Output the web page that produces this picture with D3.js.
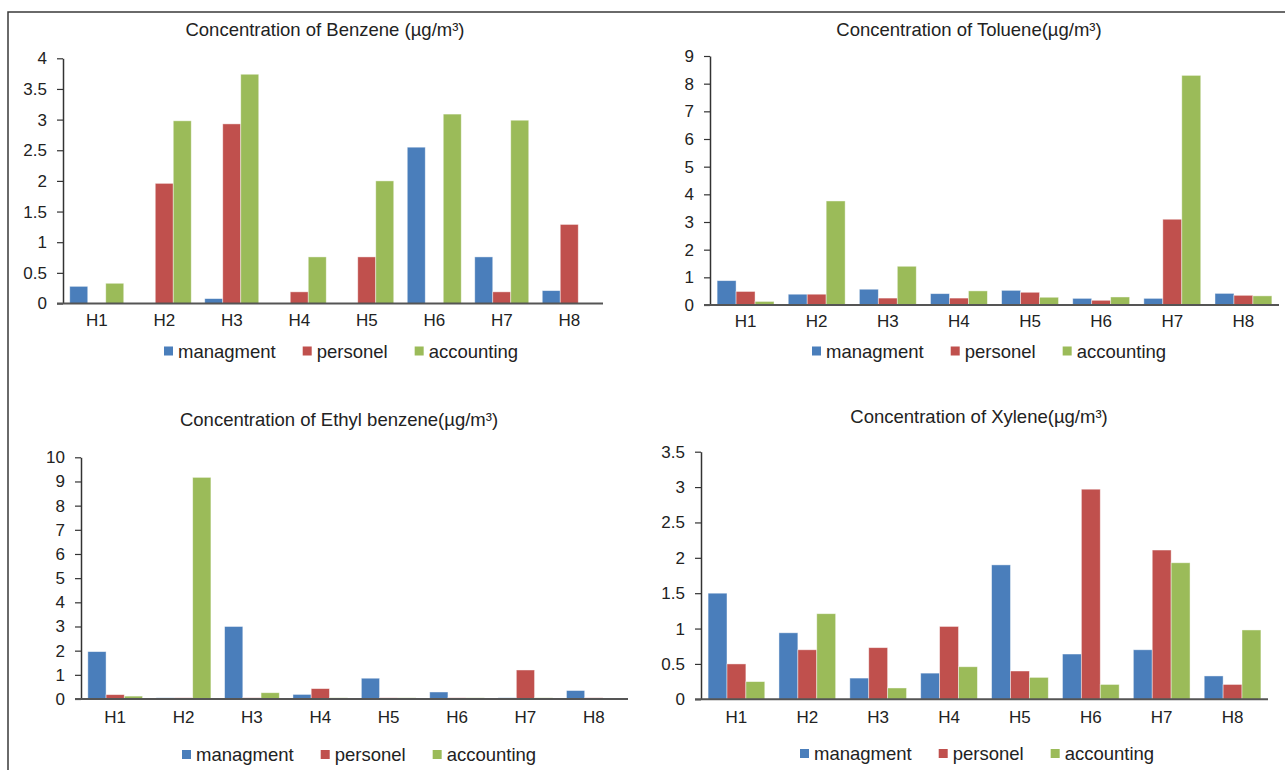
<!DOCTYPE html>
<html>
<head>
<meta charset="utf-8">
<script src="https://cdn.jsdelivr.net/npm/d3@7"></script>
<style>
  html, body { margin: 0; padding: 0; background: #fff; }
  svg { display: block; font-family: "Liberation Sans", Arial, Helvetica, sans-serif; }
</style>
</head>
<body>
<svg id="chart" width="1285" height="770"></svg>
<script>
// ---------- DATA ----------
const categories = ["H1", "H2", "H3", "H4", "H5", "H6", "H7", "H8"];
const seriesNames = ["managment", "personel", "accounting"];
const seriesColors = ["#4a7ebb", "#c0504d", "#9bbb59"];

const benzeneManagment  = [0.28, 0, 0.08, 0, 0, 2.55, 0.76, 0.21];
const benzenePersonel   = [0, 1.96, 2.93, 0.19, 0.76, 0, 0.19, 1.29];
const benzeneAccounting = [0.33, 2.98, 3.74, 0.76, 2.00, 3.09, 2.99, 0];
const benzeneTicks = [0, 0.5, 1, 1.5, 2, 2.5, 3, 3.5, 4];

const tolueneManagment  = [0.88, 0.39, 0.57, 0.41, 0.53, 0.24, 0.24, 0.42];
const toluenePersonel   = [0.49, 0.39, 0.25, 0.25, 0.46, 0.17, 3.10, 0.35];
const tolueneAccounting = [0.13, 3.76, 1.40, 0.51, 0.28, 0.29, 8.30, 0.33];
const tolueneTicks = [0, 1, 2, 3, 4, 5, 6, 7, 8, 9];

const ethylManagment  = [1.96, 0.05, 3.00, 0.19, 0.86, 0.29, 0.05, 0.35];
const ethylPersonel   = [0.18, 0.05, 0.05, 0.43, 0.05, 0.05, 1.20, 0.05];
const ethylAccounting = [0.12, 9.17, 0.26, 0.05, 0.05, 0.05, 0.05, 0];
const ethylTicks = [0, 1, 2, 3, 4, 5, 6, 7, 8, 9, 10];

const xyleneManagment  = [1.50, 0.94, 0.30, 0.37, 1.90, 0.64, 0.70, 0.33];
const xylenePersonel   = [0.50, 0.70, 0.73, 1.03, 0.40, 2.97, 2.11, 0.21];
const xyleneAccounting = [0.25, 1.21, 0.16, 0.46, 0.31, 0.21, 1.93, 0.98];
const xyleneTicks = [0, 0.5, 1, 1.5, 2, 2.5, 3, 3.5];

// ---------- LAYOUT ----------
const panels = [
  { title: "Concentration of Benzene (µg/m³)", series: [benzeneManagment, benzenePersonel, benzeneAccounting],
    ticks: benzeneTicks, x0: 63, x1: 603, yZero: 303.5, yTop: 58.3, titleX: 325, titleY: 36, legendX: 164, legendY: 357.5, labelPad: 10 },
  { title: "Concentration of Toluene(µg/m³)", series: [tolueneManagment, toluenePersonel, tolueneAccounting],
    ticks: tolueneTicks, x0: 710, x1: 1279, yZero: 305, yTop: 56, titleX: 969, titleY: 36, legendX: 812, legendY: 357.5, labelPad: 10 },
  { title: "Concentration of Ethyl benzene(µg/m³)", series: [ethylManagment, ethylPersonel, ethylAccounting],
    ticks: ethylTicks, x0: 81, x1: 628, yZero: 699, yTop: 457.3, titleX: 339, titleY: 425.5, legendX: 182, legendY: 761, labelPad: 12 },
  { title: "Concentration of Xylene(µg/m³)", series: [xyleneManagment, xylenePersonel, xyleneAccounting],
    ticks: xyleneTicks, x0: 701, x1: 1268, yZero: 699.3, yTop: 451.7, titleX: 979, titleY: 423, legendX: 800, legendY: 760, labelPad: 12 }
];

const svg = d3.select("#chart");

// outer frame (left and top edges)
svg.append("path")
  .attr("d", "M8,770 L8,12 L1285,12")
  .attr("fill", "none").attr("stroke", "#3a3a3a").attr("stroke-width", 1.5);

panels.forEach(p => {
  const g = svg.append("g");
  const maxTick = p.ticks[p.ticks.length - 1];
  const y = d3.scaleLinear().domain([0, maxTick]).range([p.yZero, p.yTop]);
  const x = d3.scaleBand().domain(categories).range([p.x0, p.x1]).paddingInner(0.2).paddingOuter(0.1);
  const xs = d3.scaleBand().domain(seriesNames).range([0, x.bandwidth()]);

  // bars
  seriesNames.forEach((s, si) => {
    g.append("g").selectAll("rect")
      .data(categories.map((c, i) => ({ c, v: p.series[si][i] })).filter(d => d.v > 0))
      .join("rect")
      .attr("x", d => x(d.c) + xs(s))
      .attr("width", xs.bandwidth())
      .attr("y", d => y(d.v))
      .attr("height", d => y(0) - y(d.v))
      .attr("fill", seriesColors[si])
      .attr("stroke", "rgba(255,255,255,0.55)")
      .attr("stroke-width", 0.8);
  });

  // y axis
  const ya = g.append("g")
    .attr("transform", `translate(${p.x0},0)`)
    .call(d3.axisLeft(y).tickValues(p.ticks).tickFormat(d => String(d)).tickSize(6).tickSizeOuter(0).tickPadding(10));
  ya.select(".domain").attr("stroke", "#333").attr("stroke-width", 1.5);
  ya.selectAll(".tick line").attr("stroke", "#333").attr("stroke-width", 1.2);
  ya.selectAll(".tick text").attr("font-size", 17).attr("fill", "#222")
    .attr("font-family", "'Liberation Sans', Arial, sans-serif");

  // x axis
  const xa = g.append("g")
    .attr("transform", `translate(0,${p.yZero})`)
    .call(d3.axisBottom(x).tickSize(0).tickPadding(p.labelPad));
  xa.select(".domain").remove();
  xa.selectAll(".tick text").attr("font-size", 17).attr("fill", "#222")
    .attr("font-family", "'Liberation Sans', Arial, sans-serif");
  g.append("line")
    .attr("x1", p.x0 - 6).attr("x2", p.x1)
    .attr("y1", y(0)).attr("y2", y(0))
    .attr("stroke", "#555").attr("stroke-width", 2);

  // title
  g.append("text")
    .attr("x", p.titleX).attr("y", p.titleY)
    .attr("text-anchor", "middle")
    .attr("font-size", 18.5).attr("fill", "#222")
    .text(p.title);

  // legend
  let cx = p.legendX;
  seriesNames.forEach((s, si) => {
    g.append("rect")
      .attr("x", cx).attr("y", p.legendY - 11)
      .attr("width", 9).attr("height", 9)
      .attr("fill", seriesColors[si]);
    const t = g.append("text")
      .attr("x", cx + 14).attr("y", p.legendY)
      .attr("font-size", 18.5).attr("fill", "#222")
      .text(s);
    cx = cx + 14 + t.node().getComputedTextLength() + 27;
  });
});
</script>
</body>
</html>
